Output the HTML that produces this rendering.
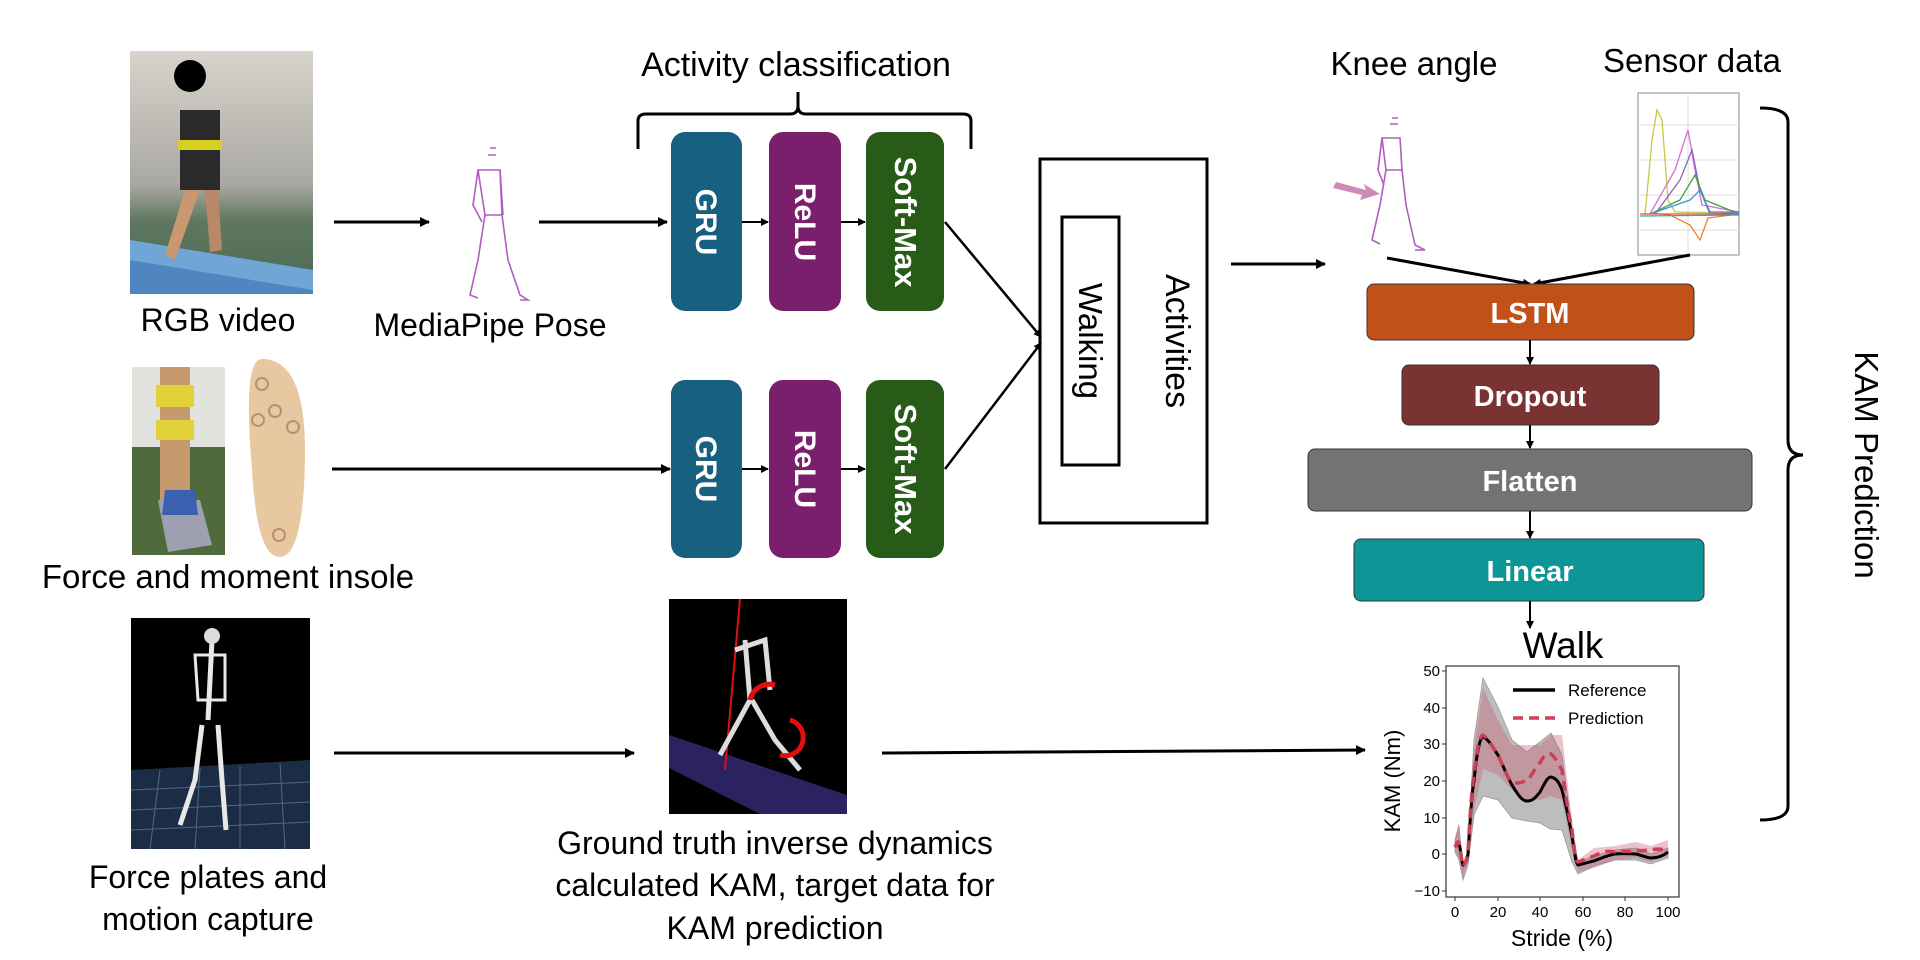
<!DOCTYPE html>
<html><head><meta charset="utf-8"><style>
html,body{margin:0;padding:0;background:#fff;}
svg{display:block;font-family:"Liberation Sans",sans-serif;}
</style></head><body>
<svg width="1920" height="960" viewBox="0 0 1920 960" xmlns="http://www.w3.org/2000/svg">
<defs>
<marker id="ah" markerWidth="10" markerHeight="10" refX="9" refY="5" orient="auto" markerUnits="userSpaceOnUse"><path d="M0,0 L10,5 L0,10 z" fill="#000"/></marker>
<marker id="ahs" markerWidth="8" markerHeight="8" refX="7" refY="4" orient="auto" markerUnits="userSpaceOnUse"><path d="M0,0 L8,4 L0,8 z" fill="#000"/></marker>
<linearGradient id="rgbg" x1="0" y1="0" x2="0" y2="1"><stop offset="0" stop-color="#d8d4cc"/><stop offset="0.55" stop-color="#a9a8a2"/><stop offset="0.7" stop-color="#5f7760"/><stop offset="1" stop-color="#4c6a52"/></linearGradient>
</defs>

<!-- RGB video photo -->
<rect x="130" y="51" width="183" height="243" fill="url(#rgbg)"/>
<polygon points="130,240 313,270 313,294 130,294" fill="#6fa6d6"/>
<polygon points="130,260 313,290 313,294 130,294" fill="#4f86c0"/>
<rect x="180" y="110" width="40" height="80" fill="#2a2a2a"/>
<rect x="178" y="140" width="44" height="10" fill="#d8d020"/>
<polygon points="185,190 200,190 175,260 165,255" fill="#c89870"/>
<polygon points="205,190 218,190 222,250 210,252" fill="#b88868"/>
<circle cx="190" cy="76" r="16" fill="#000"/>
<text x="218" y="331" font-size="32" text-anchor="middle">RGB video</text>

<line x1="334" y1="222" x2="429" y2="222" stroke="#000" stroke-width="3" marker-end="url(#ah)"/>

<!-- MediaPipe stick -->
<g stroke="#b05cc0" stroke-width="1.6" fill="none">
<path d="M490,148 l6,0 M488,155 l8,0"/>
<path d="M478,170 L500,170 L502,215 L485,215 Z"/>
<path d="M478,170 L473,205 L482,222"/>
<path d="M500,170 L503,215"/>
<path d="M485,215 L478,260 L470,295 L478,298"/>
<path d="M502,215 L508,260 L520,295 L528,300 L520,300"/>
</g>
<text x="490" y="336" font-size="32" text-anchor="middle">MediaPipe Pose</text>

<line x1="539" y1="222" x2="667" y2="222" stroke="#000" stroke-width="3" marker-end="url(#ah)"/>

<!-- Activity classification -->
<text x="796" y="76" font-size="34" text-anchor="middle">Activity classification</text>
<path d="M638,149 L638,121 Q638,114 646,114 L790,114 Q798,114 798,106 L798,92 L798,106 Q798,114 806,114 L963,114 Q971,114 971,121 L971,149" fill="none" stroke="#000" stroke-width="3"/>

<g>
<rect x="671" y="132" width="71" height="179" rx="14" fill="#17607f"/>
<rect x="769" y="132" width="72" height="179" rx="14" fill="#7a1f6b"/>
<rect x="866" y="132" width="78" height="179" rx="14" fill="#285a18"/>
<rect x="671" y="380" width="71" height="178" rx="14" fill="#17607f"/>
<rect x="769" y="380" width="72" height="178" rx="14" fill="#7a1f6b"/>
<rect x="866" y="380" width="78" height="178" rx="14" fill="#285a18"/>
</g>
<g fill="#fff" font-weight="bold" font-size="30" text-anchor="middle">
<text transform="translate(696,222) rotate(90)">GRU</text>
<text transform="translate(795,222) rotate(90)">ReLU</text>
<text transform="translate(895,222) rotate(90)" font-size="31">Soft-Max</text>
<text transform="translate(696,469) rotate(90)">GRU</text>
<text transform="translate(795,469) rotate(90)">ReLU</text>
<text transform="translate(895,469) rotate(90)" font-size="31">Soft-Max</text>
</g>
<g stroke="#000" stroke-width="2">
<line x1="742" y1="222" x2="768" y2="222" marker-end="url(#ahs)"/>
<line x1="841" y1="222" x2="865" y2="222" marker-end="url(#ahs)"/>
<line x1="742" y1="469" x2="768" y2="469" marker-end="url(#ahs)"/>
<line x1="841" y1="469" x2="865" y2="469" marker-end="url(#ahs)"/>
</g>

<line x1="332" y1="469" x2="670" y2="469" stroke="#000" stroke-width="3" marker-end="url(#ah)"/>

<line x1="945" y1="222" x2="1041" y2="337" stroke="#000" stroke-width="2.5" marker-end="url(#ahs)"/>
<line x1="945" y1="469" x2="1041" y2="343" stroke="#000" stroke-width="2.5" marker-end="url(#ahs)"/>

<rect x="1040" y="159" width="167" height="364" fill="none" stroke="#000" stroke-width="3"/>
<rect x="1062" y="217" width="57" height="248" fill="none" stroke="#000" stroke-width="3"/>
<text transform="translate(1079,341) rotate(90)" font-size="33" text-anchor="middle">Walking</text>
<text transform="translate(1166,341) rotate(90)" font-size="34" text-anchor="middle">Activities</text>

<line x1="1231" y1="264" x2="1325" y2="264" stroke="#000" stroke-width="3" marker-end="url(#ah)"/>

<!-- knee angle -->
<text x="1414" y="75" font-size="33" text-anchor="middle">Knee angle</text>
<g stroke="#b05cc0" stroke-width="1.6" fill="none">
<path d="M1392,118 l6,0 M1390,124 l8,0"/>
<path d="M1382,138 L1400,138 L1402,170 L1386,170 Z"/>
<path d="M1382,138 L1378,170 L1384,185"/>
<path d="M1386,170 L1380,205 L1372,240 L1380,244"/>
<path d="M1402,170 L1406,205 L1415,245 L1425,250 L1415,250"/>
</g>
<polygon points="1336,182 1366,190 1364,184 1380,194 1360,200 1362,195 1333,188" fill="#d08ab8"/>

<text x="1692" y="72" font-size="33" text-anchor="middle">Sensor data</text>
<rect x="1638" y="93" width="101" height="162" fill="#fff" stroke="#888" stroke-width="1"/>
<g stroke="#ddd" stroke-width="1"><line x1="1638" y1="125" x2="1739" y2="125"/><line x1="1638" y1="160" x2="1739" y2="160"/><line x1="1638" y1="195" x2="1739" y2="195"/><line x1="1638" y1="230" x2="1739" y2="230"/><line x1="1688" y1="93" x2="1688" y2="255"/></g>
<g fill="none" stroke-width="1.3">
<path d="M1645,215 L1652,140 L1657,110 L1662,120 L1668,200 L1675,212 L1739,213" stroke="#c8c840"/>
<path d="M1650,214 L1675,170 L1688,130 L1695,170 L1702,205 L1739,212" stroke="#d070d0"/>
<path d="M1655,214 L1680,180 L1692,150 L1700,190 L1710,212 L1739,212" stroke="#9060c0"/>
<path d="M1650,214 L1680,200 L1695,175 L1705,200 L1739,214" stroke="#40a040"/>
<path d="M1650,214 L1690,200 L1700,190 L1710,214 L1739,213" stroke="#4090e0"/>
<path d="M1650,213 L1670,215 L1690,225 L1700,240 L1708,218 L1739,214" stroke="#f08030"/>
<path d="M1640,214 L1739,214" stroke="#e05050"/>
<path d="M1640,216 L1739,215" stroke="#20b0b0"/>
</g>

<line x1="1387" y1="258" x2="1530" y2="284" stroke="#000" stroke-width="3" marker-end="url(#ahs)"/>
<line x1="1690" y1="255" x2="1534" y2="284" stroke="#000" stroke-width="3" marker-end="url(#ahs)"/>

<rect x="1367" y="284" width="327" height="56" rx="7" fill="#c25119" stroke="#333" stroke-width="1"/>
<rect x="1402" y="365" width="257" height="60" rx="7" fill="#7a3333" stroke="#333" stroke-width="1"/>
<rect x="1308" y="449" width="444" height="62" rx="7" fill="#737373" stroke="#333" stroke-width="1"/>
<rect x="1354" y="539" width="350" height="62" rx="7" fill="#0e9696" stroke="#333" stroke-width="1"/>
<g fill="#fff" font-weight="bold" font-size="29" text-anchor="middle">
<text x="1530" y="323">LSTM</text>
<text x="1530" y="406">Dropout</text>
<text x="1530" y="491">Flatten</text>
<text x="1530" y="581">Linear</text>
</g>
<g stroke="#000" stroke-width="2">
<line x1="1530" y1="340" x2="1530" y2="364" marker-end="url(#ahs)"/>
<line x1="1530" y1="425" x2="1530" y2="448" marker-end="url(#ahs)"/>
<line x1="1530" y1="511" x2="1530" y2="538" marker-end="url(#ahs)"/>
<line x1="1530" y1="601" x2="1530" y2="628" marker-end="url(#ahs)"/>
</g>
<text x="1563" y="658" font-size="37" text-anchor="middle">Walk</text>

<!-- chart -->
<polygon points="1455,840 1459,826 1463,870 1468,850 1474,740 1483,678 1498,707 1512,740 1527,752 1540,742 1551,733 1562,755 1572,830 1578,862 1594,856 1615,850 1636,848 1651,854 1668,848 1668,858 1651,864 1636,860 1615,860 1594,866 1578,874 1572,862 1562,830 1550,829 1540,823 1527,821 1512,818 1498,800 1483,796 1474,815 1468,865 1463,880 1459,860 1455,852" fill="#bdbdbd" stroke="#999" stroke-width="0.8"/>
<polygon points="1455,838 1459,822 1463,870 1468,850 1474,750 1483,688 1498,720 1512,745 1527,745 1540,745 1551,735 1562,735 1572,820 1578,860 1594,848 1615,846 1636,842 1651,846 1668,840 1668,856 1651,862 1636,858 1615,860 1594,868 1578,872 1572,850 1562,800 1550,796 1540,800 1527,800 1512,790 1498,775 1483,769 1474,810 1468,862 1463,878 1459,858 1455,850" fill="#c8506a" fill-opacity="0.35"/>
<path d="M1455,847 C1457,845 1458,842 1459,843 C1461,850 1462,866 1463.5,865 C1466,862 1467,860 1468,854 C1470,820 1472,790 1474,781 C1477,750 1480,738 1483,737 C1490,740 1494,750 1498,755 C1505,770 1508,778 1512,785 C1518,795 1522,801 1527,801 C1533,801 1536,797 1540,792 C1544,785 1547,777 1551,777 C1556,778 1559,782 1562,790 C1566,805 1569,820 1572,836 C1575,856 1576,864 1578,865 C1584,864 1588,862 1594,861 C1602,858 1608,855 1615,854 C1625,853 1630,854 1636,854 C1644,856 1648,858 1651,858 C1658,858 1663,856 1668,852" fill="none" stroke="#000" stroke-width="3"/>
<path d="M1455,847 C1457,843 1458,840 1459,843 C1461,850 1462,868 1463.5,866 C1466,862 1467,858 1468,852 C1470,815 1472,785 1474,775 C1477,748 1480,735 1483,735 C1490,740 1494,750 1498,755 C1505,770 1508,780 1512,781 C1518,785 1522,782 1527,780 C1533,775 1536,765 1540,763 C1544,755 1547,753 1551,754 C1556,758 1559,765 1562,770 C1566,800 1569,815 1572,830 C1575,856 1576,862 1578,862 C1584,860 1588,858 1594,856 C1602,852 1608,850 1615,852 C1625,850 1630,853 1636,850 C1644,852 1648,849 1651,850 C1658,848 1663,850 1668,850" fill="none" stroke="#cc4055" stroke-width="3.5" stroke-dasharray="10,6"/>
<rect x="1446" y="666" width="233" height="231" fill="none" stroke="#333" stroke-width="1.2"/>
<g font-size="15" text-anchor="end">
<text x="1440" y="676">50</text><text x="1440" y="713">40</text><text x="1440" y="749">30</text><text x="1440" y="786">20</text><text x="1440" y="823">10</text><text x="1440" y="859">0</text><text x="1440" y="896">−10</text>
</g>
<g stroke="#333" stroke-width="1"><line x1="1442" y1="671" x2="1446" y2="671"/><line x1="1442" y1="708" x2="1446" y2="708"/><line x1="1442" y1="744" x2="1446" y2="744"/><line x1="1442" y1="781" x2="1446" y2="781"/><line x1="1442" y1="818" x2="1446" y2="818"/><line x1="1442" y1="854" x2="1446" y2="854"/><line x1="1442" y1="891" x2="1446" y2="891"/>
<line x1="1455" y1="897" x2="1455" y2="901"/><line x1="1498" y1="897" x2="1498" y2="901"/><line x1="1540" y1="897" x2="1540" y2="901"/><line x1="1583" y1="897" x2="1583" y2="901"/><line x1="1625" y1="897" x2="1625" y2="901"/><line x1="1668" y1="897" x2="1668" y2="901"/></g>
<g font-size="15" text-anchor="middle">
<text x="1455" y="917">0</text><text x="1498" y="917">20</text><text x="1540" y="917">40</text><text x="1583" y="917">60</text><text x="1625" y="917">80</text><text x="1668" y="917">100</text>
</g>
<text x="1562" y="946" font-size="23" text-anchor="middle">Stride (%)</text>
<text transform="translate(1400,781) rotate(-90)" font-size="22" text-anchor="middle">KAM (Nm)</text>
<line x1="1513" y1="690" x2="1555" y2="690" stroke="#000" stroke-width="3.5"/>
<text x="1568" y="696" font-size="17">Reference</text>
<line x1="1513" y1="718" x2="1555" y2="718" stroke="#cc4055" stroke-width="3.5" stroke-dasharray="10,6"/>
<text x="1568" y="724" font-size="17">Prediction</text>

<!-- big bracket -->
<path d="M1760,108 Q1788,108 1788,122 L1788,440 Q1788,455 1803,455 Q1788,455 1788,470 L1788,806 Q1788,820 1760,820" fill="none" stroke="#000" stroke-width="3"/>
<text transform="translate(1855,465) rotate(90)" font-size="33" text-anchor="middle">KAM Prediction</text>

<!-- insole row -->
<rect x="132" y="367" width="93" height="188" fill="#4f6a3c"/>
<rect x="132" y="367" width="93" height="80" fill="#e2e2de"/>
<rect x="160" y="367" width="30" height="140" fill="#c79a6e"/>
<rect x="156" y="385" width="38" height="22" fill="#e1d23a"/>
<rect x="156" y="420" width="38" height="20" fill="#e1d23a"/>
<path d="M158,500 L200,500 L212,545 L168,552 Z" fill="#9ca0b0"/>
<path d="M165,490 L195,490 L198,515 L162,515 Z" fill="#3a62b0"/>
<path d="M262,359 C295,359 305,400 305,450 C305,500 300,557 280,557 C262,557 255,520 252,470 C248,420 245,359 262,359 Z" fill="#e8c8a0"/>
<g fill="none" stroke="#b89270" stroke-width="2"><circle cx="262" cy="384" r="6"/><circle cx="275" cy="411" r="6"/><circle cx="258" cy="420" r="6"/><circle cx="293" cy="427" r="6"/><circle cx="279" cy="535" r="6"/></g>
<text x="228" y="588" font-size="33" text-anchor="middle">Force and moment insole</text>

<!-- mocap -->
<rect x="131" y="618" width="179" height="231" fill="#000"/>
<polygon points="131,770 310,760 310,849 131,849" fill="#1c2c44"/>
<g stroke="#4a6a90" stroke-width="1"><line x1="131" y1="790" x2="310" y2="782"/><line x1="131" y1="810" x2="310" y2="802"/><line x1="131" y1="830" x2="310" y2="822"/><line x1="160" y1="770" x2="150" y2="849"/><line x1="200" y1="768" x2="195" y2="849"/><line x1="240" y1="766" x2="240" y2="849"/><line x1="280" y1="763" x2="285" y2="849"/></g>
<g stroke="#e8e8e8" fill="none" stroke-width="5"><path d="M212,640 L208,720"/><path d="M195,655 L225,655 L225,700 L198,700 Z" stroke-width="3"/><path d="M202,725 L195,780 L180,825"/><path d="M218,725 L222,780 L226,830"/></g>
<circle cx="212" cy="636" r="8" fill="#ddd"/>
<text x="208" y="888" font-size="32" text-anchor="middle">Force plates and</text>
<text x="208" y="930" font-size="32" text-anchor="middle">motion capture</text>

<line x1="334" y1="753" x2="634" y2="753" stroke="#000" stroke-width="3" marker-end="url(#ah)"/>

<!-- inverse dynamics -->
<rect x="669" y="599" width="178" height="215" fill="#000"/>
<polygon points="669,735 847,795 847,814 760,814 669,768" fill="#2a2360"/>
<line x1="740" y1="599" x2="725" y2="770" stroke="#e01010" stroke-width="2"/>
<g stroke="#ddd" fill="none" stroke-width="5"><path d="M745,640 L750,700 L720,755"/><path d="M752,700 L775,740 L800,770"/><path d="M735,650 L765,640 L770,690"/></g>
<path d="M750,700 A20,20 0 0 1 775,685" fill="none" stroke="#e01010" stroke-width="5"/>
<path d="M790,720 A18,18 0 0 1 780,755" fill="none" stroke="#e01010" stroke-width="5"/>
<text x="775" y="854" font-size="32" text-anchor="middle">Ground truth inverse dynamics</text>
<text x="775" y="896" font-size="32" text-anchor="middle">calculated KAM, target data for</text>
<text x="775" y="939" font-size="32" text-anchor="middle">KAM prediction</text>

<line x1="882" y1="753" x2="1365" y2="750" stroke="#000" stroke-width="3" marker-end="url(#ah)"/>
</svg>
</body></html>
